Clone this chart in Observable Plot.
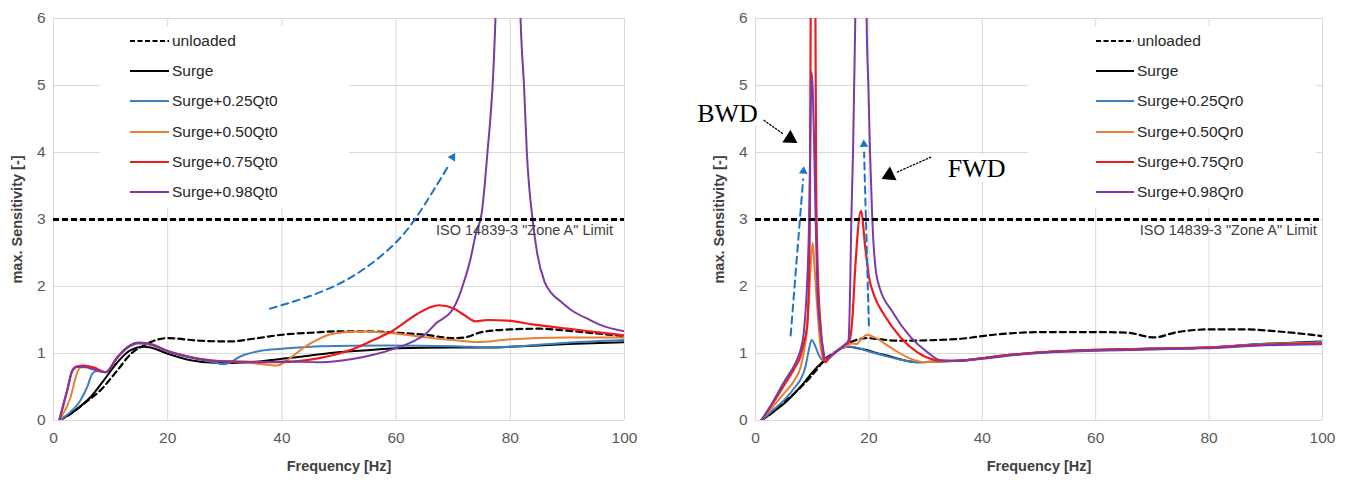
<!DOCTYPE html>
<html>
<head>
<meta charset="utf-8">
<script src="https://cdn.jsdelivr.net/npm/d3@7"></script>
<script src="https://cdn.jsdelivr.net/npm/@observablehq/plot@0.6"></script>
<style>
  body { margin: 0; background: #fff; font-family: "Liberation Sans", Arial, sans-serif; }
  #wrap { position: relative; width: 1346px; height: 480px; overflow: hidden; }
  .panel { position: absolute; top: 0; }
  .legend { position: absolute; background: #fff; }
  .row { position: absolute; height: 20px; display: flex; align-items: center; font-size: 15.5px; color: #262626; white-space: nowrap; }
  .row svg { display: block; }
  g[aria-label="x-axis label"] text, g[aria-label="y-axis label"] text { font-weight: bold; font-size: 14.5px; fill: #404040; }
</style>
</head>
<body>
<div id="wrap"></div>
<script>
// ---------- data (frequency Hz, max. sensitivity) ----------
const xTicks = [0, 20, 40, 60, 80, 100];
const yTicks = [0, 1, 2, 3, 4, 5, 6];
const limitValue = 3;
const limitText = 'ISO 14839-3 "Zone A" Limit';

const leftNames = ["unloaded", "Surge", "Surge+0.25Qt0", "Surge+0.50Qt0", "Surge+0.75Qt0", "Surge+0.98Qt0"];
const rightNames = ["unloaded", "Surge", "Surge+0.25Qr0", "Surge+0.50Qr0", "Surge+0.75Qr0", "Surge+0.98Qr0"];

const leftUnloaded = [[1,0],[3,0.1],[5.3,0.25],[8.2,0.45],[11.2,0.75],[13.5,0.99],[15.8,1.12],[17,1.17],[19.9,1.23],[25.7,1.19],[31,1.18],[35,1.22],[40,1.28],[45,1.31],[50,1.33],[55,1.33],[60,1.31],[65,1.28],[70,1.23],[72,1.24],[75,1.32],[80,1.36],[85,1.37],[90,1.34],[95,1.3],[100,1.26]];
const leftSurge = [[1,0],[4.1,0.17],[6.5,0.35],[8.8,0.6],[11.2,0.87],[13.5,1.05],[15.8,1.1],[17,1.09],[19.9,1.0],[24,0.9],[28.7,0.86],[32,0.86],[36,0.88],[40,0.92],[45,0.97],[49,1.01],[55,1.05],[60,1.08],[70,1.09],[77,1.09],[80,1.1],[90,1.14],[100,1.17]];
const leftQ25 = [[1,0],[2.6,0.1],[4.7,0.3],[5.9,0.5],[6.8,0.7],[7.6,0.74],[9.1,0.72],[11.2,0.94],[12.9,1.08],[14.9,1.15],[17,1.13],[19.9,1.03],[24,0.94],[28,0.87],[29.8,0.84],[30.5,0.85],[32.7,0.955],[36.3,1.04],[40,1.07],[46.8,1.11],[58,1.12],[70,1.11],[77,1.09],[80,1.1],[90,1.16],[100,1.2]];
const leftQ50 = [[1,0],[3,0.35],[4.1,0.7],[4.7,0.79],[5.9,0.8],[7.5,0.76],[9.1,0.72],[11.2,0.945],[12.9,1.09],[14.9,1.16],[17,1.14],[19.9,1.04],[24,0.945],[28.7,0.89],[32,0.87],[35.1,0.855],[39.2,0.82],[40.9,0.9],[44.4,1.12],[49.1,1.3],[53.7,1.33],[58.4,1.31],[64.3,1.25],[70,1.2],[74.2,1.17],[79.5,1.21],[90,1.24],[100,1.24]];
const leftQ75 = [[1,0],[2.4,0.45],[3.3,0.75],[4.1,0.81],[5.3,0.82],[7.1,0.79],[9.1,0.72],[11.2,0.945],[12.9,1.09],[14.9,1.16],[17,1.14],[19.9,1.04],[24,0.945],[28.7,0.885],[33,0.88],[38,0.87],[42,0.88],[46.8,0.935],[52.6,1.07],[56,1.2],[59,1.32],[63.7,1.59],[66,1.69],[67.5,1.72],[70.1,1.67],[72,1.57],[73.9,1.48],[76,1.5],[79.5,1.49],[84.2,1.43],[90,1.37],[95,1.32],[100,1.27]];
const leftQ98 = [[1,0],[2.4,0.45],[3.3,0.74],[4.1,0.8],[5.3,0.8],[7.1,0.76],[9.1,0.72],[11.2,0.945],[12.9,1.09],[14.9,1.16],[17,1.14],[19.9,1.04],[24,0.945],[28.7,0.885],[35,0.87],[40.9,0.88],[46.8,0.87],[52.6,0.92],[56,0.98],[60,1.08],[63,1.18],[65,1.28],[67,1.45],[70,1.67],[71,1.85],[72,2.1],[73,2.4],[74,2.8],[75,3.1],[75.5,3.5],[76,4.0],[76.5,4.5],[76.9,5.0],[77.4,6.0],[78,8],[79,14],[79.8,30],[80.6,14],[81.2,8.5],[81.8,6.0],[82.4,5.0],[82.9,4.0],[83.9,3.0],[84.7,2.5],[86,2.07],[87.2,1.9],[88.8,1.78],[91,1.63],[93.5,1.52],[96,1.42],[100,1.33]];

const rightUnloaded = [[1,0],[3,0.12],[5,0.27],[6.8,0.4],[8,0.5],[9.7,0.65],[11,0.78],[12.1,0.9],[14.4,1.04],[16.8,1.17],[19.7,1.23],[22,1.21],[25.6,1.19],[31.5,1.2],[36.2,1.22],[42,1.28],[50.9,1.32],[59.7,1.32],[65.6,1.31],[70.3,1.24],[74.4,1.32],[80.3,1.36],[86.2,1.36],[92,1.33],[100,1.26]];
const rightSurge = [[1,0],[3,0.12],[5,0.25],[7.9,0.5],[10.9,0.8],[12.6,0.92],[14.4,1.04],[16.2,1.1],[18.5,1.07],[22.6,0.98],[28.5,0.87],[32,0.88],[36.2,0.895],[40,0.93],[45,0.98],[50.9,1.02],[59.7,1.055],[70,1.075],[77.4,1.085],[80,1.09],[89.1,1.14],[100,1.18]];
const rightQ25 = [[1,0],[3,0.15],[5,0.3],[7,0.5],[8,0.62],[8.8,0.8],[9.4,1.05],[9.9,1.2],[10.5,1.12],[11.2,0.97],[12,0.9],[12.6,0.92],[14.4,1.04],[16.2,1.1],[17,1.1],[18.5,1.07],[20,1.03],[22.6,0.97],[25,0.92],[28.5,0.87],[32,0.88],[36.2,0.895],[40,0.93],[45,0.98],[50.9,1.02],[59.7,1.05],[70,1.07],[77.4,1.08],[80,1.09],[89.1,1.14],[100,1.17]];
const rightQ50 = [[1,0],[3,0.2],[5,0.4],[7,0.62],[7.9,0.78],[8.5,1.0],[9,1.3],[9.4,1.79],[9.8,2.4],[10.1,2.65],[10.4,2.3],[10.8,1.79],[11.5,1.09],[12.2,0.88],[12.8,0.93],[14.4,1.04],[16.2,1.12],[17,1.15],[17.8,1.14],[18.5,1.2],[19.7,1.28],[21,1.24],[23.8,1.09],[27.4,0.92],[30,0.87],[32,0.88],[36.2,0.895],[40,0.93],[45,0.98],[50.9,1.02],[59.7,1.05],[70,1.07],[77.4,1.08],[80,1.09],[89.1,1.13],[100,1.16]];
const rightQ75 = [[1,0],[3,0.25],[5,0.52],[7,0.8],[7.9,0.95],[8.5,1.15],[9.1,1.4],[9.4,2.0],[9.6,3.2],[9.75,6.5],[10.15,20],[10.55,6.5],[10.7,3.5],[11,2.2],[11.5,1.4],[12,0.95],[12.3,0.87],[13,0.93],[14.4,1.04],[15.9,1.14],[16.5,1.17],[17.1,1.54],[17.6,2.29],[18.6,3.13],[19.4,2.55],[20,2.15],[21,1.85],[22.6,1.59],[25.6,1.24],[28.5,1.02],[31.5,0.905],[33,0.89],[36.2,0.895],[40,0.93],[45,0.98],[50.9,1.02],[59.7,1.05],[70,1.07],[77.4,1.08],[80,1.09],[89.1,1.13],[100,1.15]];
const rightQ98 = [[1,0],[3,0.27],[5,0.57],[7,0.85],[7.9,1.04],[8.5,1.3],[9.1,2.04],[9.4,2.79],[9.6,3.78],[9.9,5.2],[10.3,4.28],[10.6,3.03],[11,1.79],[11.8,1.14],[12.4,0.92],[13,0.95],[14.4,1.04],[15.9,1.14],[16.4,1.2],[16.7,2.0],[16.9,3.0],[17.2,4.0],[17.4,5.0],[17.6,6.0],[18.6,25],[19.6,6],[19.9,5],[20.2,4],[20.6,3],[21.5,2.1],[24.4,1.59],[27.4,1.24],[30.3,1.02],[32.6,0.9],[36.2,0.89],[40,0.92],[45,0.97],[50.9,1.01],[59.7,1.04],[70,1.06],[77.4,1.075],[80,1.08],[89.1,1.12],[100,1.14]];

// annotations (data units)
const trendArrowLeft = [[37.9,1.67],[44,1.83],[50,2.04],[55,2.3],[60,2.66],[64.3,3.13],[69.3,3.82]];
const trendHeadLeft = [[69.9,3.93,32]];
const bwdRise = [[6.2,1.27],[8.4,3.6]];
const fwdRise = [[20.0,1.42],[19.15,4.0]];
const riseHeads = [[8.45,3.72,5],[19.12,4.12,-2]];
const bwdPointer = [[1.5,4.48],[5.0,4.27]];
const fwdPointer = [[30.9,3.93],[24.8,3.7]];
const pointerHeads = [[6.1,4.21,122],[23.6,3.66,-116]];
const modeLabels = [["BWD",-4.94,4.58],["FWD",39.0,3.76]];
const limitLabelPos = {left: [98.0, 2.84], right: [99.0, 2.84]};

// ---------- styles ----------
const styles = [
  {stroke: "#000", width: 2.2, dash: "6,4"},
  {stroke: "#000", width: 2, dash: null},
  {stroke: "#3d80c0", width: 2, dash: null},
  {stroke: "#ed7d31", width: 2, dash: null},
  {stroke: "#ee1c1c", width: 2.2, dash: null},
  {stroke: "#7a3aa8", width: 2, dash: null}
];

const toRows = (arr) => arr.map(([f, v]) => ({f, v}));

function panel(seriesList, names, opts) {
  const marks = [
    Plot.gridY({ticks: yTicks, stroke: "#d9d9d9", strokeOpacity: 1}),
    Plot.gridX({ticks: xTicks, stroke: "#d9d9d9", strokeOpacity: 1}),
    Plot.axisY({ticks: yTicks, tickFormat: d => String(d), tickSize: 0, tickPadding: 8, label: "max. Sensitivity [-]", labelArrow: "none", labelAnchor: "center", labelOffset: opts.yLabelOffset}),
    Plot.axisX({ticks: xTicks, tickFormat: d => String(d), tickSize: 0, tickPadding: 11, label: "Frequency [Hz]", labelArrow: "none", labelAnchor: "center", labelOffset: 50})
  ];
  seriesList.forEach((s, i) => {
    const st = styles[i];
    marks.push(Plot.line(toRows(s), {x: "f", y: "v", stroke: st.stroke, strokeWidth: st.width, strokeDasharray: st.dash, curve: "monotone-x", clip: true}));
  });
  marks.push(Plot.ruleY([limitValue], {stroke: "#000", strokeWidth: 3, strokeDasharray: "6,3"}));
  const lp = opts.limitPos;
  marks.push(Plot.text([limitText], {x: () => lp[0], y: () => lp[1], text: d => d, textAnchor: "end", fontSize: 14.5, fill: "#404040"}));
  marks.push(...opts.extra);
  return Plot.plot({
    width: opts.width, height: 480,
    marginLeft: opts.ml, marginRight: opts.mr, marginTop: 18, marginBottom: 60,
    x: {domain: [0, 100], labelArrow: "none"},
    y: {domain: [0, 6], labelArrow: "none"},
    style: {fontFamily: "'Liberation Sans', Arial, sans-serif", fontSize: "15.5px", color: "#595959", background: "transparent"},
    marks
  });
}

const blue = "#1a73c7";
const leftExtra = [
  Plot.line(toRows(trendArrowLeft), {x: "f", y: "v", stroke: blue, strokeWidth: 2, strokeDasharray: "7,5", curve: "natural"}),
  Plot.dot(trendHeadLeft, {x: d => d[0], y: d => d[1], rotate: d => d[2], symbol: "triangle", r: 3.2, fill: blue, stroke: "none"})
];
const rightExtra = [
  Plot.line(toRows(bwdRise), {x: "f", y: "v", stroke: blue, strokeWidth: 2, strokeDasharray: "7,5"}),
  Plot.line(toRows(fwdRise), {x: "f", y: "v", stroke: blue, strokeWidth: 2, strokeDasharray: "7,5"}),
  Plot.dot(riseHeads, {x: d => d[0], y: d => d[1], rotate: d => d[2], symbol: "triangle", r: 3.2, fill: blue, stroke: "none"}),
  Plot.line(toRows(bwdPointer), {x: "f", y: "v", stroke: "#000", strokeWidth: 1.3, strokeDasharray: "1.5,2"}),
  Plot.line(toRows(fwdPointer), {x: "f", y: "v", stroke: "#000", strokeWidth: 1.3, strokeDasharray: "1.5,2"}),
  Plot.dot(pointerHeads, {x: d => d[0], y: d => d[1], rotate: d => d[2], symbol: "triangle", r: 5.6, fill: "#000", stroke: "none"}),
  Plot.text(modeLabels, {x: d => d[1], y: d => d[2], text: d => d[0], fontFamily: "'Liberation Serif', 'Times New Roman', serif", fontSize: 26, fill: "#000", stroke: "#fff", strokeWidth: 10, paintOrder: "stroke"})
];

const wrap = document.getElementById("wrap");

function addPanel(left, chart) {
  const d = document.createElement("div");
  d.className = "panel";
  d.style.left = left + "px";
  d.appendChild(chart);
  wrap.appendChild(d);
}

addPanel(0, panel([leftUnloaded, leftSurge, leftQ25, leftQ50, leftQ75, leftQ98], leftNames,
  {width: 680, ml: 53, mr: 56, yLabelOffset: 42, limitPos: limitLabelPos.left, extra: leftExtra}));
addPanel(680, panel([rightUnloaded, rightSurge, rightQ25, rightQ50, rightQ75, rightQ98], rightNames,
  {width: 666, ml: 75, mr: 24, yLabelOffset: 42, limitPos: limitLabelPos.right, extra: rightExtra}));

function addLegend(names, box, lineX, textX) {
  const lg = document.createElement("div");
  lg.className = "legend";
  lg.style.left = box[0] + "px"; lg.style.top = box[1] + "px";
  lg.style.width = box[2] + "px"; lg.style.height = box[3] + "px";
  names.forEach((n, i) => {
    const st = styles[i];
    const row = document.createElement("div");
    row.className = "row";
    row.style.left = (lineX - box[0]) + "px";
    row.style.top = (41 + i * 30.2 - 10 - box[1]) + "px";
    const w = textX - lineX - 3;
    row.innerHTML = `<svg width="${w}" height="10"><line x1="0" x2="${w}" y1="5" y2="5" stroke="${st.stroke}" stroke-width="${st.width}" ${st.dash ? `stroke-dasharray="5,2.5"` : ""}/></svg><span style="margin-left:3px">${n}</span>`;
    lg.appendChild(row);
  });
  wrap.appendChild(lg);
}
addLegend(leftNames, [100, 26, 249, 182], 130, 172);
addLegend(rightNames, [1028, 26, 288, 182], 1096, 1137);
</script>
</body>
</html>
